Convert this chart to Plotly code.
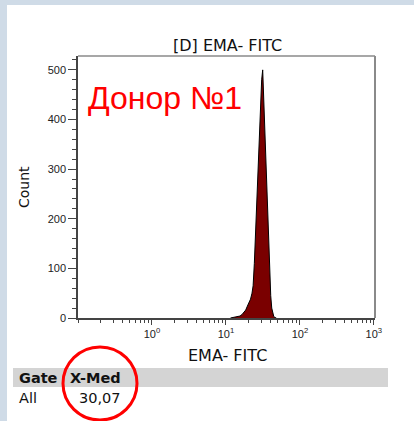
import plotly.graph_objects as go

# ---- data ----
channel = [11.5, 12.5, 13.5, 14.5, 15.5, 16.5, 17.5, 18.5, 19.5, 20.5, 21.5, 22.5,
           23.3, 24.2, 25.2, 26.3, 27.3, 28.3, 29.4, 30.4, 31.4, 32.4, 33.4, 34.7,
           36.0, 37.2, 38.3, 39.3, 40.3, 41.6, 43.0, 44.3, 46.0, 48.0]
counts = [0, 1, 2, 2, 4, 7, 12, 16, 24, 30, 38, 50,
          65, 110, 175, 250, 320, 385, 445, 480, 500, 440, 385, 320,
          251, 180, 116, 75, 45, 20, 8, 3, 1, 0]

x_tickvals = [1, 10, 100, 1000]
x_ticktext = ["10<sup>0</sup>", "10<sup>1</sup>", "10<sup>2</sup>", "10<sup>3</sup>"]
y_tickvals = [0, 100, 200, 300, 400, 500]

title_text = "[D] EMA- FITC"
x_title = "EMA- FITC"
y_title = "Count"
donor_label = "Донор №1"
table_header = ["Gate", "X-Med"]
table_row = ["All", "30,07"]

# ---- geometry helpers (pixel -> paper) ----
W, H = 414, 421
ML, MR, MT, MB = 78, 39, 56, 103
PW, PH = W - ML - MR, H - MT - MB


def px(x):
    return (x - ML) / PW


def py(y):
    return (H - MB - y) / PH


fig = go.Figure()
fig.add_trace(go.Scatter(
    x=channel, y=counts, mode="lines", fill="tozeroy",
    fillcolor="#7a0000", line=dict(color="black", width=1),
    hoverinfo="skip", showlegend=False,
))

font_main = "DejaVu Sans"

fig.update_layout(
    width=W, height=H,
    margin=dict(l=ML, r=MR, t=MT, b=MB),
    paper_bgcolor="#cfdbe7",
    plot_bgcolor="white",
    showlegend=False,
    xaxis=dict(
        type="log", range=[-1.0, 3.015],
        tickvals=x_tickvals, ticktext=x_ticktext,
        ticks="outside", ticklen=5, tickcolor="#444", tickwidth=1,
        showline=True, linecolor="#444", linewidth=1.5,
        showgrid=False, zeroline=False,
        tickfont=dict(family="Liberation Sans", size=11, color="#222"),
        minor=dict(ticks="outside", ticklen=3, tickcolor="#444", dtick="D1", showgrid=False),
    ),
    yaxis=dict(
        range=[0, 528],
        tickvals=y_tickvals,
        ticks="outside", ticklen=8, tickcolor="#444", tickwidth=1,
        showline=True, linecolor="#444", linewidth=1.5,
        showgrid=False, zeroline=False,
        tickfont=dict(family="Liberation Sans", size=11, color="#222"),
        minor=dict(ticks="outside", ticklen=4, tickcolor="#444", dtick=20, showgrid=False),
    ),
)

shapes = [
    # white panel
    dict(type="rect", xref="paper", yref="paper", x0=px(7), x1=px(430), y0=py(440), y1=py(5),
         fillcolor="white", line=dict(width=0), layer="below"),
    # top and right frame
    dict(type="line", xref="paper", yref="paper", x0=0, x1=1, y0=1, y1=1,
         line=dict(color="#8a8a8a", width=1.5)),
    dict(type="line", xref="paper", yref="paper", x0=1, x1=1, y0=0, y1=1,
         line=dict(color="#8a8a8a", width=2)),
    # table header bar
    dict(type="rect", xref="paper", yref="paper", x0=px(13), x1=px(388), y0=py(387), y1=py(368),
         fillcolor="#d4d4d4", line=dict(width=0), layer="below"),
    # red circle
    dict(type="circle", xref="paper", yref="paper", x0=px(63), x1=px(137), y0=py(420), y1=py(347),
         line=dict(color="#ff0000", width=3)),
]
fig.update_layout(shapes=shapes)

ann = [
    dict(text=title_text, x=px(227), y=py(45), font=dict(family=font_main, size=16, color="#111")),
    dict(text=x_title, x=px(227), y=py(355), font=dict(family=font_main, size=16, color="#111")),
    dict(text=y_title, x=px(24), y=py(187), textangle=-90, font=dict(family=font_main, size=14, color="#111")),
    dict(text=donor_label, x=px(86), y=py(98), xanchor="left",
         font=dict(family="Liberation Sans", size=32, color="#ff0000")),
    dict(text="<b>" + table_header[0] + "</b>", x=px(17), y=py(378), xanchor="left",
         font=dict(family=font_main, size=14.5, color="#111")),
    dict(text="<b>" + table_header[1] + "</b>", x=px(68), y=py(378), xanchor="left",
         font=dict(family=font_main, size=14.5, color="#111")),
    dict(text=table_row[0], x=px(17), y=py(398), xanchor="left",
         font=dict(family=font_main, size=14.5, color="#111")),
    dict(text=table_row[1], x=px(123), y=py(398), xanchor="right",
         font=dict(family=font_main, size=14.5, color="#111")),
]
for a in ann:
    a.setdefault("xanchor", "center")
    a.update(xref="paper", yref="paper", yanchor="middle", showarrow=False)
fig.update_layout(annotations=ann)

fig.write_html("out.html")
